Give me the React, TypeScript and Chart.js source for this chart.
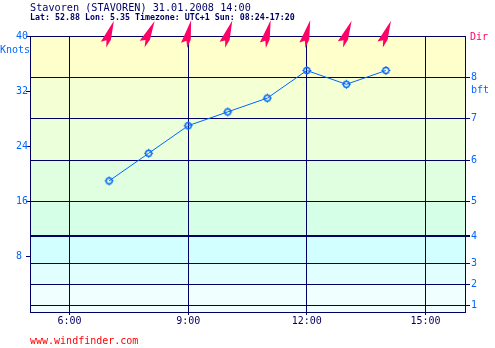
import React, { useEffect, useRef } from "react";
import { Chart, registerables } from "chart.js";

Chart.register(...registerables);

const titleText = "Stavoren (STAVOREN) 31.01.2008 14:00";
const subtitleText = "Lat: 52.88 Lon: 5.35 Timezone: UTC+1 Sun: 08:24-17:20";
const footerText = "www.windfinder.com";

const hours = [7, 8, 9, 10, 11, 12, 13, 14];
const windKnots = [19, 23, 27, 29, 31, 35, 33, 35];
const windDirDeg = [198, 203, 190, 197, 192, 192, 200, 199];

const xTickHours = [6, 9, 12, 15];
const knotTicks = [8, 16, 24, 32, 40];
const bftBounds = [1, 4, 7, 11, 16, 22, 28, 34];
const bftLabels = ["1", "2", "3", "4", "5", "6", "7", "8"];
const bandEdges = [0, 1, 4, 7, 11, 16, 22, 28, 34, 40];
const bandColors = ["#f0ffff", "#f0ffff", "#e2ffff", "#d2ffff", "#d5ffe6", "#e0ffe0", "#eaffda", "#f4ffd4", "#ffffcc"];

const NAVY = "#000066";
const BLUE = "#0066ff";
const PINK = "#ff0066";
const MONO = "'DejaVu Sans Mono', monospace";

function makeMarker(): HTMLCanvasElement {
  const c = document.createElement("canvas");
  c.width = 11;
  c.height = 11;
  const g = c.getContext("2d")!;
  g.strokeStyle = BLUE;
  g.lineWidth = 1.4;
  g.beginPath();
  g.arc(5.5, 5.5, 3, 0, Math.PI * 2);
  g.stroke();
  g.lineWidth = 1;
  g.beginPath();
  g.moveTo(5.5, 1); g.lineTo(5.5, 3);
  g.moveTo(5.5, 8); g.lineTo(5.5, 10);
  g.moveTo(1, 5.5); g.lineTo(3, 5.5);
  g.moveTo(8, 5.5); g.lineTo(10, 5.5);
  g.stroke();
  return c;
}

const decorPlugin = {
  id: "decor",
  beforeDraw(chart: any) {
    const { ctx, chartArea: a, scales } = chart;
    const y = scales.y;
    ctx.save();
    for (let i = 0; i < bandColors.length; i++) {
      const top = y.getPixelForValue(bandEdges[i + 1]);
      const bot = y.getPixelForValue(bandEdges[i]);
      ctx.fillStyle = bandColors[i];
      ctx.fillRect(a.left, top, a.right - a.left, bot - top);
    }
    ctx.restore();
  },
  afterDraw(chart: any) {
    const { ctx, chartArea: a, scales } = chart;
    const x = scales.x;
    ctx.save();
    ctx.strokeStyle = NAVY;
    ctx.lineWidth = 1;
    ctx.beginPath();
    ctx.moveTo(a.left, a.top + 0.5);
    ctx.lineTo(a.right, a.top + 0.5);
    ctx.stroke();

    ctx.textBaseline = "alphabetic";
    ctx.textAlign = "left";
    ctx.fillStyle = NAVY;
    ctx.font = `10.2px ${MONO}`;
    ctx.fillText(titleText, 30, 10.5);
    ctx.font = `bold 8.3px ${MONO}`;
    ctx.fillText(subtitleText, 30, 19.5);

    ctx.font = `10px ${MONO}`;
    ctx.fillStyle = BLUE;
    ctx.fillText("Knots", 0, 53);
    ctx.fillText("bft", 471, 93);
    ctx.fillStyle = PINK;
    ctx.fillText("Dir", 470, 40);
    ctx.fillStyle = "#ff0000";
    ctx.fillText(footerText, 30, 344);

    ctx.fillStyle = PINK;
    for (let i = 0; i < hours.length; i++) {
      const px = x.getPixelForValue(hours[i]);
      ctx.save();
      ctx.translate(px + 0.5, 34);
      ctx.rotate(((windDirDeg[i] - 180) * Math.PI) / 180);
      ctx.beginPath();
      ctx.moveTo(0, -14);
      ctx.lineTo(3, 5);
      ctx.lineTo(1, 14);
      ctx.lineTo(-1, 7);
      ctx.lineTo(-6, 10);
      ctx.closePath();
      ctx.fill();
      ctx.restore();
    }
    ctx.restore();
  },
};

export default function App() {
  const ref = useRef<HTMLCanvasElement>(null);
  useEffect(() => {
    document.body.style.margin = "0";
    const marker = makeMarker();
    const chart = new Chart(ref.current!, {
      type: "line",
      data: {
        datasets: [
          {
            data: hours.map((h, i) => ({ x: h, y: windKnots[i] })),
            borderColor: BLUE,
            borderWidth: 1,
            pointStyle: marker as any,
            pointRadius: 5,
            tension: 0,
            yAxisID: "y",
          },
        ],
      },
      options: {
        animation: false,
        responsive: false,
        devicePixelRatio: 1,
        layout: { padding: { top: 36, left: 16, right: 0, bottom: 0 } },
        plugins: { legend: { display: false }, tooltip: { enabled: false }, title: { display: false } },
        scales: {
          x: {
            type: "linear",
            min: 5,
            max: 16,
            afterBuildTicks: (s: any) => { s.ticks = xTickHours.map((v) => ({ value: v })); },
            afterFit: (s: any) => { s.height = 36; },
            ticks: {
              color: NAVY,
              font: { family: MONO, size: 10 },
              padding: 0,
              maxRotation: 0,
              autoSkip: false,
              callback: (v: any) => `${v}:00`,
            },
            grid: { color: NAVY, lineWidth: 1, drawTicks: true, tickLength: 3 },
            border: { display: true, color: NAVY },
          },
          y: {
            type: "linear",
            position: "left",
            min: 0,
            max: 40,
            afterBuildTicks: (s: any) => { s.ticks = knotTicks.map((v) => ({ value: v })); },
            afterFit: (s: any) => { s.width = 14; },
            ticks: {
              color: BLUE,
              font: { family: MONO, size: 10 },
              crossAlign: "far",
              padding: 0,
              autoSkip: false,
            },
            grid: { drawOnChartArea: false, drawTicks: true, tickLength: 4, color: NAVY },
            border: { display: true, color: NAVY },
          },
          yR: {
            type: "linear",
            position: "right",
            min: 0,
            max: 40,
            afterBuildTicks: (s: any) => { s.ticks = bftBounds.map((v) => ({ value: v })); },
            afterFit: (s: any) => { s.width = 30; },
            ticks: {
              color: BLUE,
              font: { family: MONO, size: 10 },
              padding: 1,
              autoSkip: false,
              callback: (v: any) => bftLabels[bftBounds.indexOf(Number(v))],
            },
            grid: {
              color: NAVY,
              drawTicks: true,
              tickLength: 5,
              lineWidth: (c: any) => (c.tick && c.tick.value === 11 ? 2 : 1),
            },
            border: { display: true, color: NAVY },
          },
        },
      } as any,
      plugins: [decorPlugin],
    });
    return () => chart.destroy();
  }, []);
  return <canvas ref={ref} width={495} height={348} style={{ display: "block" }} />;
}
